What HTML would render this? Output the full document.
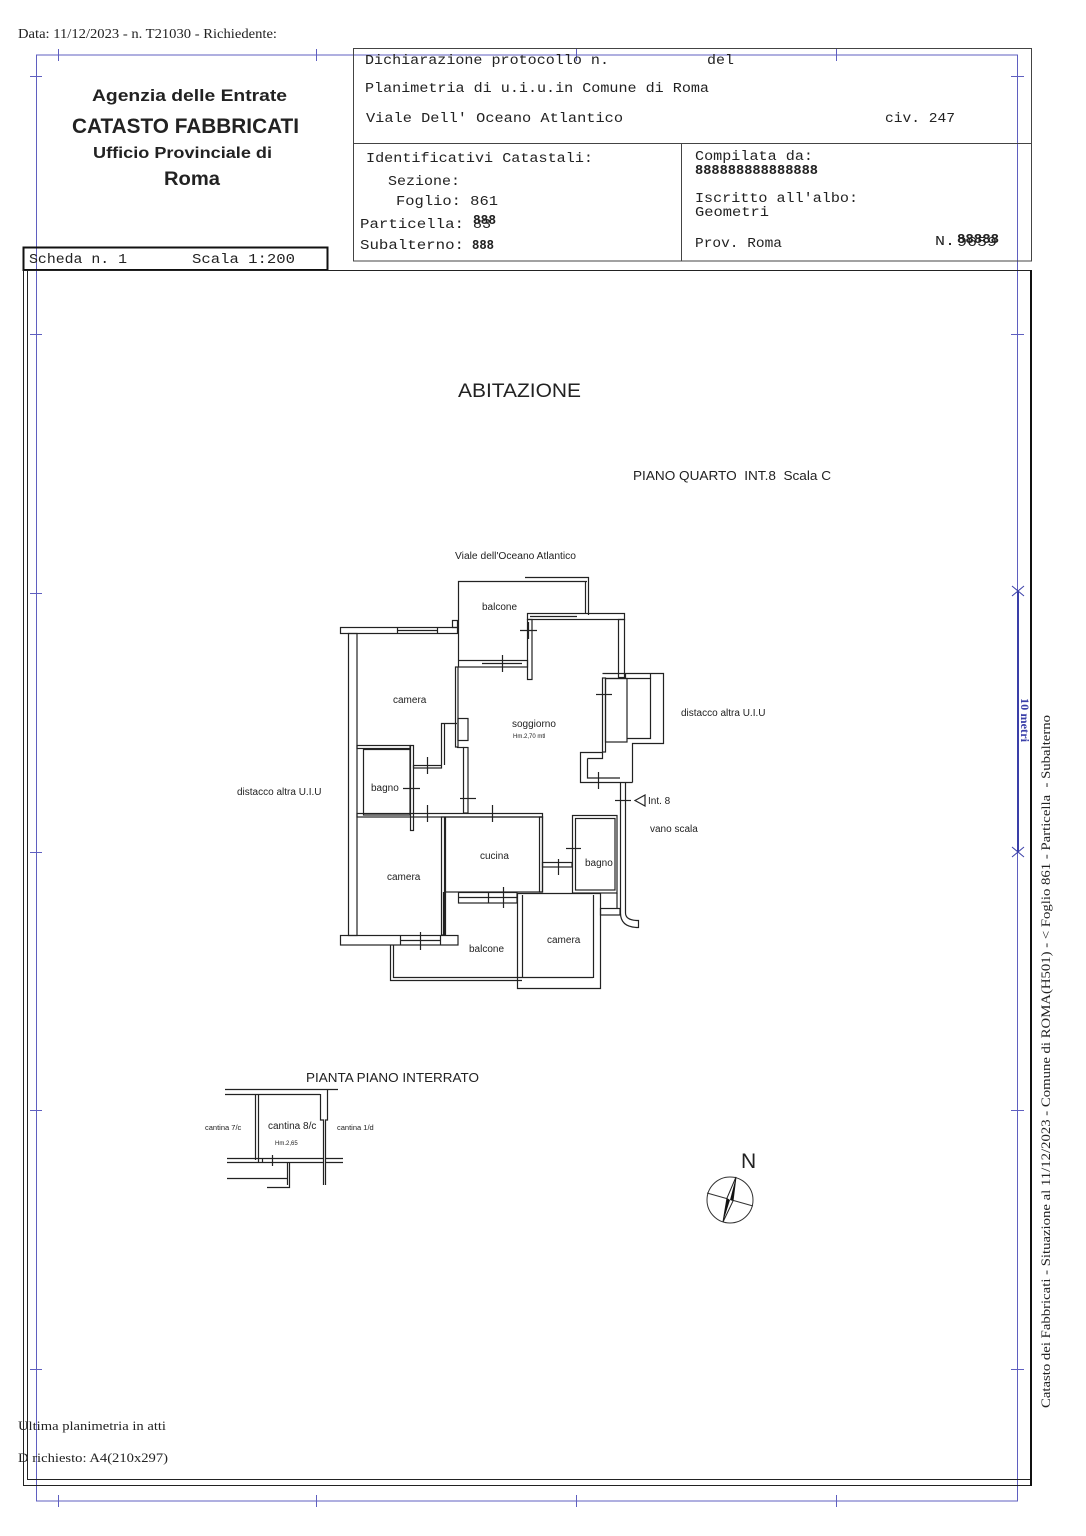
<!DOCTYPE html>
<html><head><meta charset="utf-8"><style>
html,body{margin:0;padding:0;background:#fff;}
svg{display:block;}
.m{font-family:"Liberation Mono",monospace;font-size:13.5px;fill:#222;}
.s{font-family:"Liberation Sans",sans-serif;fill:#222;}
.t{font-family:"Liberation Serif",serif;fill:#222;}
</style></head><body>
<svg width="1086" height="1536" viewBox="0 0 1086 1536" xmlns="http://www.w3.org/2000/svg">
<rect x="0" y="0" width="1086" height="1536" fill="#fff"/>

<!-- top caption -->
<text class="t" x="18" y="38" font-size="13.5" textLength="259" lengthAdjust="spacingAndGlyphs">Data: 11/12/2023 - n. T21030 - Richiedente:</text>

<!-- blue frame -->
<g stroke="#5f5fc0" stroke-width="1" fill="none">
<path d="M36.5,55 H1017.5 V1501 H36.5 Z"/>
<path d="M58.5,49 V61 M316.5,49 V61 M576.5,49 V61 M836.5,49 V61"/>
<path d="M58.5,1495 V1507 M316.5,1495 V1507 M576.5,1495 V1507 M836.5,1495 V1507"/>
<path d="M30,76.5 H42 M30,334.5 H42 M30,593.5 H42 M30,852.5 H42 M30,1110.5 H42 M30,1369.5 H42"/>
<path d="M1011,76.5 H1024 M1011,334.5 H1024 M1011,1110.5 H1024 M1011,1369.5 H1024"/>
</g>
<!-- scale bar -->
<g stroke="#3a3fa8" fill="none">
<path d="M1018,591 V852" stroke-width="2"/>
<path d="M1012,586 L1024,596 M1012,596 L1024,586 M1012,847 L1024,857 M1012,857 L1024,847" stroke-width="1"/>
</g>
<text x="1021" y="698" font-family="Liberation Serif,serif" font-size="12" font-weight="bold" fill="#3a3fa8" transform="rotate(90 1021 698)" textLength="44" lengthAdjust="spacingAndGlyphs">10 metri</text>

<!-- header left -->
<text class="s" x="92" y="101" font-size="17" font-weight="bold" textLength="195" lengthAdjust="spacingAndGlyphs">Agenzia delle Entrate</text>
<text class="s" x="72" y="133" font-size="21" font-weight="bold" textLength="227" lengthAdjust="spacingAndGlyphs">CATASTO FABBRICATI</text>
<text class="s" x="93" y="158" font-size="16" font-weight="bold" textLength="179" lengthAdjust="spacingAndGlyphs">Ufficio Provinciale di</text>
<text class="s" x="164" y="185" font-size="19" font-weight="bold" textLength="56" lengthAdjust="spacingAndGlyphs">Roma</text>

<!-- scheda box -->
<rect x="23.5" y="247.5" width="304" height="22.5" fill="none" stroke="#111" stroke-width="2"/>
<text class="m" x="29" y="263" textLength="98" lengthAdjust="spacingAndGlyphs">Scheda n. 1</text>
<text class="m" x="192" y="263" textLength="103" lengthAdjust="spacingAndGlyphs">Scala 1:200</text>

<!-- header right box -->
<g stroke="#444" stroke-width="1" fill="none">
<rect x="353.5" y="48.5" width="678" height="212.5"/>
<path d="M353.5,143.5 H1031.5 M681.5,143.5 V261"/>
</g>
<text class="m" x="365" y="64" textLength="244" lengthAdjust="spacingAndGlyphs">Dichiarazione protocollo n.</text>
<text class="m" x="707" y="64" textLength="27" lengthAdjust="spacingAndGlyphs">del</text>
<text class="m" x="365" y="92" textLength="344" lengthAdjust="spacingAndGlyphs">Planimetria di u.i.u.in Comune di Roma</text>
<text class="m" x="366" y="122" textLength="257" lengthAdjust="spacingAndGlyphs">Viale Dell' Oceano Atlantico</text>
<text class="m" x="885" y="122" textLength="70" lengthAdjust="spacingAndGlyphs">civ. 247</text>
<text class="m" x="366" y="162" textLength="227" lengthAdjust="spacingAndGlyphs">Identificativi Catastali:</text>
<text class="m" x="388" y="185" textLength="72" lengthAdjust="spacingAndGlyphs">Sezione:</text>
<text class="m" x="396" y="205" textLength="102" lengthAdjust="spacingAndGlyphs">Foglio: 861</text>
<text class="m" x="360" y="228" textLength="104" lengthAdjust="spacingAndGlyphs">Particella:</text>
<text class="m" x="473" y="228" textLength="18" lengthAdjust="spacingAndGlyphs">83</text>
<text class="m" x="473" y="224" font-weight="bold" textLength="23" lengthAdjust="spacingAndGlyphs">888</text>
<text class="m" x="360" y="249" textLength="104" lengthAdjust="spacingAndGlyphs">Subalterno:</text>
<text class="m" x="472" y="249" font-weight="bold" textLength="22" lengthAdjust="spacingAndGlyphs">888</text>
<text class="m" x="695" y="160" textLength="118" lengthAdjust="spacingAndGlyphs">Compilata da:</text>
<text class="m" x="695" y="174" font-weight="bold" textLength="123" lengthAdjust="spacingAndGlyphs">888888888888888</text>
<text class="m" x="695" y="202" textLength="163" lengthAdjust="spacingAndGlyphs">Iscritto all'albo:</text>
<text class="m" x="695" y="216" textLength="74" lengthAdjust="spacingAndGlyphs">Geometri</text>
<text class="m" x="695" y="247" textLength="87" lengthAdjust="spacingAndGlyphs">Prov. Roma</text>
<text class="m" x="935" y="245" textLength="20" lengthAdjust="spacingAndGlyphs">N.</text>
<text class="m" x="957" y="246" textLength="40" lengthAdjust="spacingAndGlyphs">9659</text>
<text class="m" x="957" y="243" font-weight="bold" textLength="42" lengthAdjust="spacingAndGlyphs">88888</text>

<!-- main black frame -->
<g fill="none" stroke="#222">
<path d="M23.5,270.5 V1485.5 H1031" stroke-width="1"/>
<path d="M27.5,270.5 V1479.5 H1031" stroke-width="1"/>
<path d="M23.5,270.5 H1031" stroke-width="1"/>
<path d="M1031,270 V1486" stroke-width="2" stroke="#111"/>
</g>

<!-- vertical right text -->
<text class="t" x="0" y="0" font-size="13" transform="translate(1050 1408) rotate(-90)" textLength="693" lengthAdjust="spacingAndGlyphs">Catasto dei Fabbricati - Situazione al 11/12/2023 - Comune di ROMA(H501) - &lt; Foglio 861 - Particella &#160;- Subalterno</text>

<!-- titles -->
<text class="s" x="458" y="397" font-size="19" textLength="123" lengthAdjust="spacingAndGlyphs">ABITAZIONE</text>
<text class="s" x="633" y="480" font-size="13" textLength="198" lengthAdjust="spacingAndGlyphs">PIANO QUARTO &#160;INT.8 &#160;Scala C</text>
<text class="s" x="455" y="559" font-size="10" textLength="121" lengthAdjust="spacingAndGlyphs">Viale dell'Oceano Atlantico</text>

<!-- floor plan -->
<g stroke="#222" stroke-width="1.2" fill="none">
<!-- top balcone -->
<path d="M458.5,660 V581.5 H587"/>
<path d="M525,577.5 H588.5 V615"/>
<path d="M585.5,581 V613"/>
<!-- soggiorno top wall -->
<rect x="527.5" y="613.5" width="97" height="6"/>
<path d="M530,616.5 H577"/>
<rect x="618.5" y="619.5" width="6" height="58"/>
<rect x="527.5" y="619.5" width="4.5" height="60"/>
<!-- balcone bottom -->
<rect x="458.5" y="660.5" width="69" height="6.5"/>
<path d="M482,663.5 H522"/>
<!-- soggiorno left -->
<rect x="455.5" y="667" width="2.5" height="80"/>
<rect x="458" y="718.5" width="10" height="22"/>
<path d="M457,747.5 H463.5"/>
<rect x="463.5" y="747.5" width="4.5" height="65.5"/>
<!-- camera top ledge -->
<rect x="340.5" y="627.5" width="117" height="6"/>
<path d="M397,630.5 H437 M397.5,627.5 V633.5 M437.5,627.5 V633.5"/>
<rect x="452.5" y="620.5" width="5" height="7"/>
<!-- left wall -->
<rect x="348.5" y="633.5" width="8.5" height="302"/>
<!-- camera right step -->
<path d="M457,723.5 H441.5 V765 M444.5,723.5 V765"/>
<rect x="357" y="745.5" width="53" height="3"/>
<!-- bagno left -->
<rect x="363.5" y="749.5" width="46.5" height="65.5"/>
<rect x="410.5" y="745.5" width="3" height="85"/>
<rect x="413.5" y="765.5" width="28" height="2.5"/>
<!-- wall under corridor -->
<rect x="357" y="813.5" width="185.5" height="3.5"/>
<!-- cucina -->
<rect x="445.5" y="817" width="97" height="75"/>
<rect x="539.5" y="817" width="3" height="75"/>
<!-- camera2 right -->
<rect x="441.5" y="817" width="3" height="118"/>
<!-- bottom ledge -->
<rect x="340.5" y="935.5" width="117.5" height="9.5"/>
<path d="M400,940.5 H440 M400.5,935.5 V945 M440.5,935.5 V945"/>
<!-- balcone2 -->
<path d="M390.5,945 V980.5 H522 M393.5,945 V977.5 H593"/>
<rect x="458.5" y="892.5" width="58.5" height="10.5"/>
<path d="M488.5,892.5 V903 M458.5,897.5 H517"/>
<path d="M443.5,892 V935 M445.5,892 V935"/>
<!-- camera3 -->
<path d="M517.5,893 V988.5 H600.5 V893.5 H517.5"/>
<path d="M522.5,895 V978 M593.5,895 V978"/>
<!-- passage -->
<rect x="542.5" y="862.5" width="29.5" height="4.5"/>
<!-- bagno right -->
<rect x="572.5" y="815.5" width="44.5" height="77.5"/>
<rect x="575.5" y="818.5" width="39.5" height="71.5"/>
<path d="M617,893 V908"/>
<rect x="600.5" y="908.5" width="19.5" height="6.5"/>
<!-- stair wall -->
<path d="M620.5,782 V913 Q620.5,927.5 638.5,927.5 V920.5 Q625.5,920.5 625.5,913 V782"/>
<!-- upper right area -->
<rect x="602.5" y="678" width="3" height="74"/>
<path d="M602.5,673.5 H663.5 V743.5 H632.5 V782.5 M605.5,678.5 H650.5 V738.5 H627.5"/>
<path d="M625.5,673.5 V678.5 M650.5,673.5 V678.5"/>
<rect x="605.5" y="678.5" width="21.5" height="63.5"/>
<path d="M602.5,752.5 H580.5 V782.5 H632.5 M587.5,758.5 V778 H620"/>
<path d="M602.5,752.5 V758.5 H587.5"/>
<!-- door crosses -->
<path d="M520,630.5 H537 M528.5,622 V639"/>
<path d="M502.5,655 V672"/>
<path d="M596,694.5 H612"/>
<path d="M427.5,757 V774"/>
<path d="M403,788.5 H420"/>
<path d="M460,798.5 H476"/>
<path d="M427.5,805 V822"/>
<path d="M492.5,805 V822"/>
<path d="M598.5,772 V789"/>
<path d="M615,800.5 H631"/>
<path d="M566,848.5 H581"/>
<path d="M558.5,859 V875"/>
<path d="M503.5,887 V908"/>
<path d="M420.5,932 V950"/>
<!-- Int 8 arrow -->
<path d="M645,795 L635,800.5 L645,806 Z"/>
</g>

<!-- plan labels -->
<g>
<text x="482" y="610" class="s" font-size="10">balcone</text>
<text x="393" y="703" class="s" font-size="10">camera</text>
<text x="512" y="727" class="s" font-size="10">soggiorno</text>
<text x="513" y="738" class="s" font-size="6">Hm.2,70 mtl</text>
<text x="681" y="716" class="s" font-size="10">distacco altra U.I.U</text>
<text x="237" y="795" class="s" font-size="10">distacco altra U.I.U</text>
<text x="371" y="791" class="s" font-size="10">bagno</text>
<text x="648" y="804" class="s" font-size="10">Int. 8</text>
<text x="650" y="832" class="s" font-size="10">vano scala</text>
<text x="480" y="859" class="s" font-size="10">cucina</text>
<text x="585" y="866" class="s" font-size="10">bagno</text>
<text x="387" y="880" class="s" font-size="10">camera</text>
<text x="469" y="952" class="s" font-size="10">balcone</text>
<text x="547" y="943" class="s" font-size="10">camera</text>
</g>

<!-- pianta piano interrato -->
<text class="s" x="306" y="1082" font-size="13" textLength="173" lengthAdjust="spacingAndGlyphs">PIANTA PIANO INTERRATO</text>
<g stroke="#222" stroke-width="1.2" fill="none">
<path d="M225,1089.5 H338 M225,1094.5 H320"/>
<path d="M255.5,1094 V1160 M258.5,1094 V1158"/>
<path d="M320.5,1094 V1120 H323.5 V1185 M327.5,1089.5 V1120 H325.5 V1185"/>
<path d="M227,1158.5 H323 M326,1158.5 H343 M227,1162.5 H323 M326,1162.5 H343"/>
<path d="M287.5,1162.5 V1185 M289.5,1162.5 V1187.5 H267"/>
<path d="M227,1178.5 H287"/>
<path d="M258.5,1158 V1162.5 M262.5,1158 V1162.5"/>
<path d="M272.5,1155 V1166"/>
</g>
<text class="s" x="205" y="1130" font-size="7.5">cantina 7/c</text>
<text class="s" x="268" y="1129" font-size="10">cantina 8/c</text>
<text class="s" x="275" y="1145" font-size="6">Hm.2,65</text>
<text class="s" x="337" y="1130" font-size="7.5">cantina 1/d</text>

<!-- compass -->
<text class="s" x="741" y="1168" font-size="21">N</text>
<g stroke="#333" stroke-width="1" fill="none">
<circle cx="730" cy="1200" r="23"/>
<path d="M707,1193 L753,1206"/>
</g>
<path d="M736,1177 L733,1201 L723,1222 L727,1198 Z" fill="#fff" stroke="#222" stroke-width="1"/>
<path d="M736,1177 L733,1201 L730,1200 Z" fill="#111"/>
<path d="M723,1222 L727,1198 L730,1200 Z" fill="#111"/>

<!-- bottom notes -->
<text class="t" x="18" y="1430" font-size="13" textLength="148" lengthAdjust="spacingAndGlyphs">Ultima planimetria in atti</text>
<text class="t" x="18" y="1462" font-size="13" textLength="150" lengthAdjust="spacingAndGlyphs">D richiesto: A4(210x297)</text>
</svg>
</body></html>
